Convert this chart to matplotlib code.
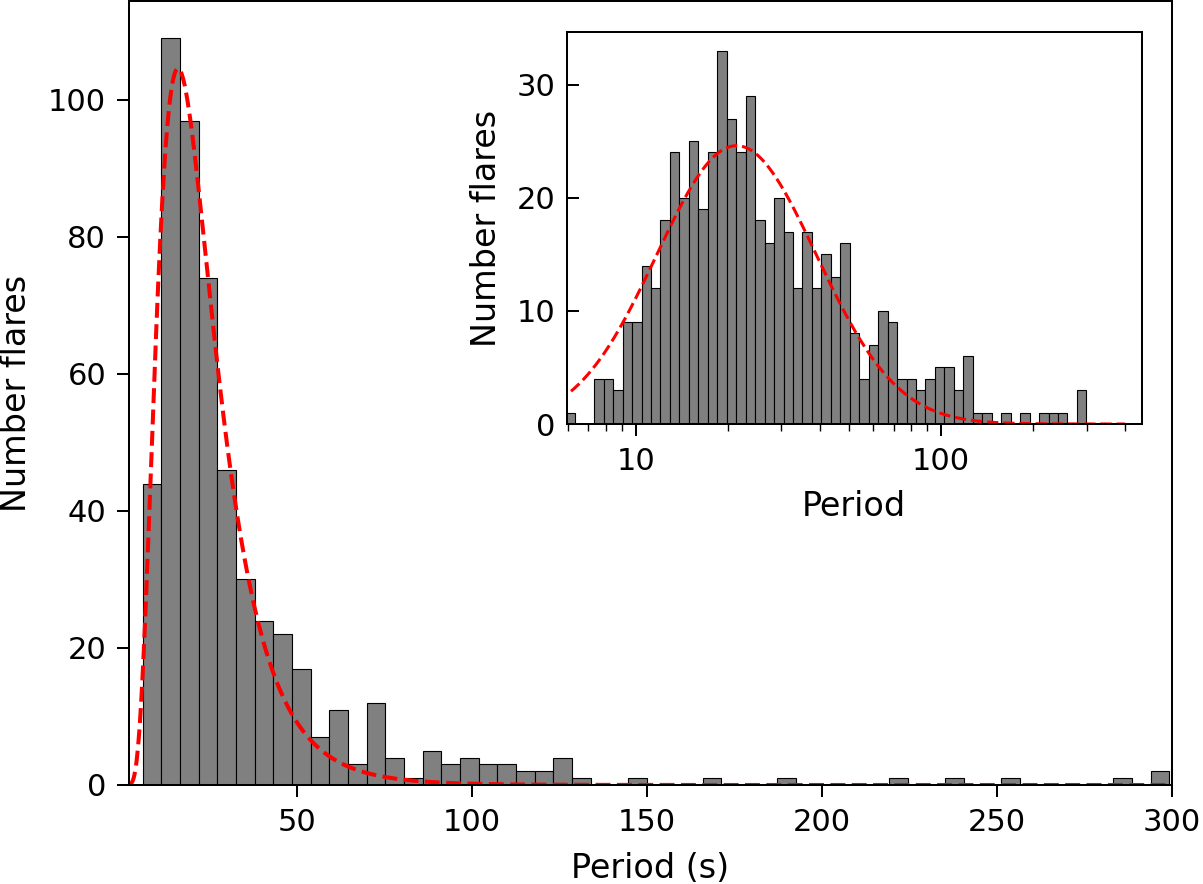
import numpy as np
import matplotlib
matplotlib.use("Agg")
import matplotlib.pyplot as plt
from matplotlib.ticker import FuncFormatter, NullFormatter

# ---------------- data ----------------
period_min = 5.9
period_max = 299.2
n_bins = 55

# counts per linear bin (main panel)
main_counts = [44, 109, 97, 74, 46, 30, 24, 22, 17, 7,
               11, 3, 12, 4, 1, 5, 3, 4, 3, 3,
               2, 2, 4, 1, 0, 0, 1, 0, 0, 0,
               1, 0, 0, 0, 1, 0, 0, 0, 0, 0,
               1, 0, 0, 1, 0, 0, 1, 0, 0, 0,
               0, 0, 1, 0, 2]

# counts per logarithmic bin (inset)
inset_counts = [1, 0, 0, 4, 4, 3, 9, 9, 14, 12,
                18, 24, 20, 25, 19, 24, 33, 27, 24, 29,
                18, 16, 20, 17, 12, 17, 12, 15, 13, 16,
                8, 4, 7, 10, 9, 4, 4, 3, 4, 5,
                5, 3, 6, 1, 1, 0, 1, 0, 1, 0,
                1, 1, 1, 0, 3]

# fitted log-normal curves
main_fit_mode = 16.0
main_fit_peak = 104.6
main_fit_sigma_ln = 0.516

inset_fit_center = 10 ** 1.33
inset_fit_peak = 24.6
inset_fit_sigma_log10 = 0.262

main_xticks = [50, 100, 150, 200, 250, 300]
main_yticks = [0, 20, 40, 60, 80, 100]
inset_yticks = [0, 10, 20, 30]

# ---------------- figure ----------------
W, H = 1203, 884
fig = plt.figure(figsize=(W / 100, H / 100), dpi=100)

TICK_FS = 22
LABEL_FS = 24
SPINE_LW = 1.45

def px_rect(l, t, r, b):
    return [l / W, 1 - b / H, (r - l) / W, (b - t) / H]

ax = fig.add_axes(px_rect(129, 1, 1172, 785))
axin = fig.add_axes(px_rect(566.7, 32, 1141.7, 424))

# main histogram
lin_edges = np.linspace(period_min, period_max, n_bins + 1)
ax.hist(lin_edges[:-1], bins=lin_edges, weights=main_counts,
        color="gray", edgecolor="black", linewidth=0.8)
xf = np.linspace(2, 300, 1500)
yf = main_fit_peak * np.exp(-np.log(xf / main_fit_mode) ** 2 / (2 * main_fit_sigma_ln ** 2))
ax.plot(xf, yf, "r--", lw=2.9)
ax.set_xlim(2, 300)
ax.set_ylim(0, max(main_counts) * 1.05)
ax.set_xticks(main_xticks)
ax.set_yticks(main_yticks)
ax.set_xlabel("Period (s)", fontsize=LABEL_FS, labelpad=11)
ax.set_ylabel("Number flares", fontsize=LABEL_FS, labelpad=11)

# inset histogram
log_edges = np.logspace(np.log10(period_min), np.log10(period_max), n_bins + 1)
axin.hist(log_edges[:-1] * 1.0001, bins=log_edges, weights=inset_counts,
          color="gray", edgecolor="black", linewidth=0.8)
xi = np.logspace(np.log10(5.0), np.log10(400), 800)
yi = inset_fit_peak * np.exp(-(np.log10(xi) - np.log10(inset_fit_center)) ** 2
                             / (2 * inset_fit_sigma_log10 ** 2))
axin.plot(xi, yi, "r--", lw=2.2)
axin.set_xscale("log")
axin.set_xlim(5.94, 454)
axin.set_ylim(0, max(inset_counts) * 1.05)
axin.set_yticks(inset_yticks)
axin.xaxis.set_major_formatter(FuncFormatter(lambda v, p: f"{v:g}"))
axin.xaxis.set_minor_formatter(NullFormatter())
axin.set_xlabel("Period", fontsize=LABEL_FS, labelpad=10)
axin.set_ylabel("Number flares", fontsize=LABEL_FS, labelpad=10)

for a in (ax, axin):
    for s in a.spines.values():
        s.set_linewidth(SPINE_LW)
    a.tick_params(which="major", length=8.4, width=SPINE_LW, labelsize=TICK_FS, pad=8)
    a.tick_params(which="minor", length=5, width=1.0)

axin.tick_params(axis="y", which="both", direction="in", pad=8)

fig.savefig("out.png", dpi=100)
